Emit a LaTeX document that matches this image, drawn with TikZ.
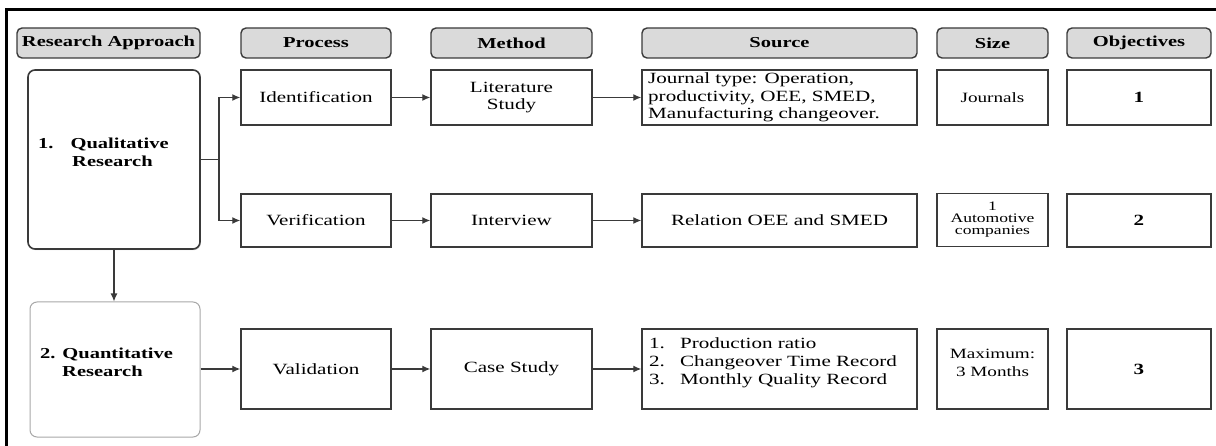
\documentclass[tikz,border=0pt]{standalone}
\usepackage{fontspec}
\setmainfont{Liberation Serif}[FakeStretch=1.35]
\usetikzlibrary{arrows.meta,shadows}
\definecolor{edge}{HTML}{3A3A3A}
\definecolor{hdrfill}{HTML}{DADADA}
\definecolor{lightedge}{HTML}{A8A8A8}
\tikzset{
  hdr/.style={draw=edge, fill=hdrfill, rounded corners=5pt, line width=1.4pt,
    minimum height=30, inner sep=0pt, font=\fontsize{15.2}{17}\selectfont\bfseries},
  cell/.style={draw=edge, line width=1.4pt, inner sep=0pt, align=center,
    font=\fontsize{15.6}{17.5}\selectfont},
  numcell/.style={cell, font=\fontsize{15.6}{17.5}\selectfont\bfseries},
  plain/.style={inner sep=0pt, align=left},
  wire/.style={draw=edge, line width=1.3pt},
  conn/.style={wire, -{Latex[length=8pt,width=7pt]}},
}
\begin{document}
\begin{tikzpicture}[x=1pt,y=-1pt]
\useasboundingbox (0,0) rectangle (1216,446);
% outer frame
\draw[line width=3pt, black] (6,446) -- (6,10) -- (1216,10);

% headers
\node[hdr, minimum width=183] (hRA) at (108.5,43) {Research Approach};
\node[hdr, minimum width=150] (hP)  at (316,43)   {Process};
\node[hdr, minimum width=161] (hM)  at (511.5,43) {Method};
\node[hdr, minimum width=275] (hS)  at (779.5,43) {Source};
\node[hdr, minimum width=111] (hSz) at (992.5,43) {Size};
\node[hdr, minimum width=144] (hO)  at (1139,43)  {Objectives};

% research approach boxes
\node[draw=edge, line width=1.6pt, rounded corners=7pt, minimum width=172, minimum height=179,
      drop shadow={shadow xshift=0.8pt, shadow yshift=-1.2pt, fill=gray!60}, fill=white] (qual) at (114,159.5) {};
\node[plain, anchor=west, font=\fontsize{15.2}{18}\selectfont\bfseries] (qualtxt) at (38,152)
  {1.\hspace{17pt}Qualitative\\\hspace{34pt}Research};
\node[draw=lightedge, line width=1pt, rounded corners=7pt, minimum width=170, minimum height=135] (quant) at (115,369.5) {};
\node[plain, anchor=west, font=\fontsize{15.2}{18}\selectfont\bfseries] (quanttxt) at (40,362)
  {2. Quantitative\\\hspace{22pt}Research};

% row 1
\node[cell, minimum width=150, minimum height=55] (ident) at (316,97.5) {Identification};
\node[cell, minimum width=161, minimum height=55] (lit)   at (511.5,97.5) {Literature\\Study};
\node[cell, minimum width=275, minimum height=55] (src1)  at (779.5,97.5) {};
\node[plain, anchor=west, font=\fontsize{15.6}{17.5}\selectfont] (src1txt) at (648,97.5)
  {Journal type: Operation,\\productivity, OEE, SMED,\\Manufacturing changeover.};
\node[cell, minimum width=111, minimum height=55, font=\fontsize{14.2}{17}\selectfont] (sz1) at (992.5,97.5) {Journals};
\node[numcell, minimum width=144, minimum height=55] (ob1) at (1139,97.5) {1};

% row 2
\node[cell, minimum width=150, minimum height=53] (verif) at (316,220.5) {Verification};
\node[cell, minimum width=161, minimum height=53] (intv)  at (511.5,220.5) {Interview};
\node[cell, minimum width=275, minimum height=53] (src2)  at (779.5,220.5) {Relation OEE and SMED};
\node[cell, minimum width=111, minimum height=53, font=\fontsize{13}{12}\selectfont] (sz2) at (992.5,220) {1\\Automotive\\companies};
\node[numcell, minimum width=144, minimum height=53] (ob2) at (1139,220.5) {2};

% row 3
\node[cell, minimum width=150, minimum height=80] (valid) at (316,369) {Validation};
\node[cell, minimum width=161, minimum height=80] (cases) at (511.5,369) {Case Study};
\node[cell, minimum width=275, minimum height=80] (src3)  at (779.5,369) {};
\node[plain, anchor=west, font=\fontsize{15.6}{18}\selectfont] (src3txt) at (649,362.5)
  {\makebox[31pt][l]{1.}Production ratio\\\makebox[31pt][l]{2.}Changeover Time Record\\\makebox[31pt][l]{3.}Monthly Quality Record};
\node[cell, minimum width=111, minimum height=80] (sz3) at (992.5,369) {};
\node[plain, align=center, font=\fontsize{14.2}{18}\selectfont] (sz3txt) at (992.5,362.5) {Maximum:\\3 Months};
\node[numcell, minimum width=144, minimum height=80] (ob3) at (1139,369) {3};

% connectors
\coordinate (j) at (219,159.5);
\draw[wire] (qual.east) -- (j);
\draw[conn] (j) |- (ident);
\draw[conn] (j) |- (verif);
\draw[conn] (qual.south) -- (qual.south |- quant.north);
\draw[conn] (quant.east |- valid) -- (valid);

\draw[conn] (ident) -- (lit);
\draw[conn] (lit) -- (src1);
\draw[conn] (verif) -- (intv);
\draw[conn] (intv) -- (src2);
\draw[conn] (valid) -- (cases);
\draw[conn] (cases.east) -- (cases.east -| src3.west);
\end{tikzpicture}
\end{document}
